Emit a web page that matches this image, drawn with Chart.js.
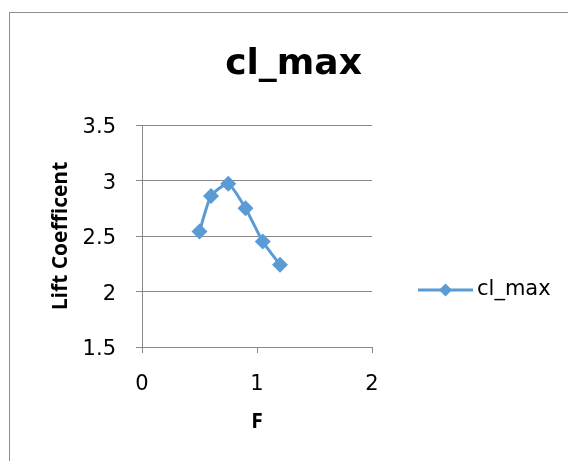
<!DOCTYPE html>
<html>
<head>
<meta charset="utf-8">
<script src="https://cdn.jsdelivr.net/npm/chart.js@4"></script>
<style>
    html, body { margin: 0; padding: 0; background: #fff; overflow: hidden; }
    #wrap { position: relative; width: 568px; height: 461px; }
    #frame { position: absolute; left: 9px; top: 12px; width: 600px; height: 500px; border: 1px solid #8e8e8e; }
    canvas { position: absolute; left: 0; top: 0; }
</style>
</head>
<body>
<div id="wrap">
    <div id="frame"></div>
    <canvas id="chart"></canvas>
</div>
<script>
// values
const seriesName = 'cl_max';
const fValues = [0.5, 0.6, 0.75, 0.9, 1.05, 1.2];
const clMax = [2.54, 2.86, 2.97, 2.75, 2.45, 2.24];

const blue = '#5b9bd5';
const gridGray = '#878787';

// legend sample: line with a diamond on it
const legendIcon = document.createElement('canvas');
legendIcon.width = 55;
legendIcon.height = 16;
(function () {
    const c = legendIcon.getContext('2d');
    c.strokeStyle = blue;
    c.lineWidth = 3;
    c.beginPath();
    c.moveTo(0, 8);
    c.lineTo(55, 8);
    c.stroke();
    c.fillStyle = blue;
    c.beginPath();
    c.moveTo(27.5, 1.5);
    c.lineTo(34, 8);
    c.lineTo(27.5, 14.5);
    c.lineTo(21, 8);
    c.closePath();
    c.fill();
})();

// move title and legend to where Excel puts them
const nudge = {
    id: 'nudge',
    afterLayout(chart) {
        const t = chart.titleBlock;
        t.left += 45.5;
        t.right += 45.5;
        const lg = chart.legend;
        const h = lg.bottom - lg.top;
        lg.top = 290 - h / 2;
        lg.bottom = lg.top + h;
        lg.left = 414.5;
        lg.right = 566;
    }
};

new Chart(document.getElementById('chart'), {
    type: 'line',
    data: {
        datasets: [{
            label: seriesName,
            data: fValues.map((f, i) => ({ x: f, y: clMax[i] })),
            borderColor: blue,
            backgroundColor: blue,
            borderWidth: 3,
            tension: 0.2,
            pointStyle: 'rectRot',
            pointRadius: 8,
            pointBorderWidth: 0,
            fill: false
        }]
    },
    plugins: [nudge],
    options: {
        responsive: true,
        maintainAspectRatio: false,
        animation: false,
        devicePixelRatio: 1,
        layout: { padding: { left: 0, top: 0, right: 72, bottom: 26.4 } },
        plugins: {
            title: {
                display: true,
                text: seriesName,
                color: '#000',
                font: { family: 'DejaVu Sans', size: 36, weight: 'bold' },
                padding: { top: 43, bottom: 38.8 }
            },
            legend: {
                position: 'right',
                labels: {
                    usePointStyle: true,
                    pointStyle: legendIcon,
                    pointStyleWidth: 42,
                    padding: 10,
                    color: '#000',
                    font: { family: 'DejaVu Sans', size: 21 }
                }
            },
            tooltip: { enabled: false }
        },
        scales: {
            x: {
                type: 'linear',
                min: 0,
                max: 2,
                ticks: {
                    stepSize: 1,
                    padding: 18.5,
                    color: '#000',
                    font: { family: 'DejaVu Sans', size: 21 }
                },
                grid: { drawOnChartArea: false, drawTicks: true, tickLength: 6, color: gridGray },
                border: { color: gridGray },
                title: {
                    display: true,
                    text: 'F',
                    color: '#000',
                    font: { family: 'Open Sans', size: 21, weight: 'bold' },
                    padding: { top: 0, bottom: 0 }
                },
                afterFit(scale) { scale.height = 87.6; }
            },
            y: {
                min: 1.5,
                max: 3.5,
                ticks: {
                    stepSize: 0.5,
                    padding: 20,
                    labelOffset: 3,
                    color: '#000',
                    font: { family: 'DejaVu Sans', size: 21 },
                    callback: (v) => String(v)
                },
                grid: { color: gridGray, tickLength: 6 },
                border: { color: gridGray },
                title: {
                    display: true,
                    text: 'Lift Coefficent',
                    color: '#000',
                    font: { family: 'Open Sans', size: 21, weight: 'bold' },
                    padding: { top: 48.4, bottom: 0 }
                },
                afterFit(scale) { scale.width = 142; }
            }
        }
    }
});
</script>
</body>
</html>
